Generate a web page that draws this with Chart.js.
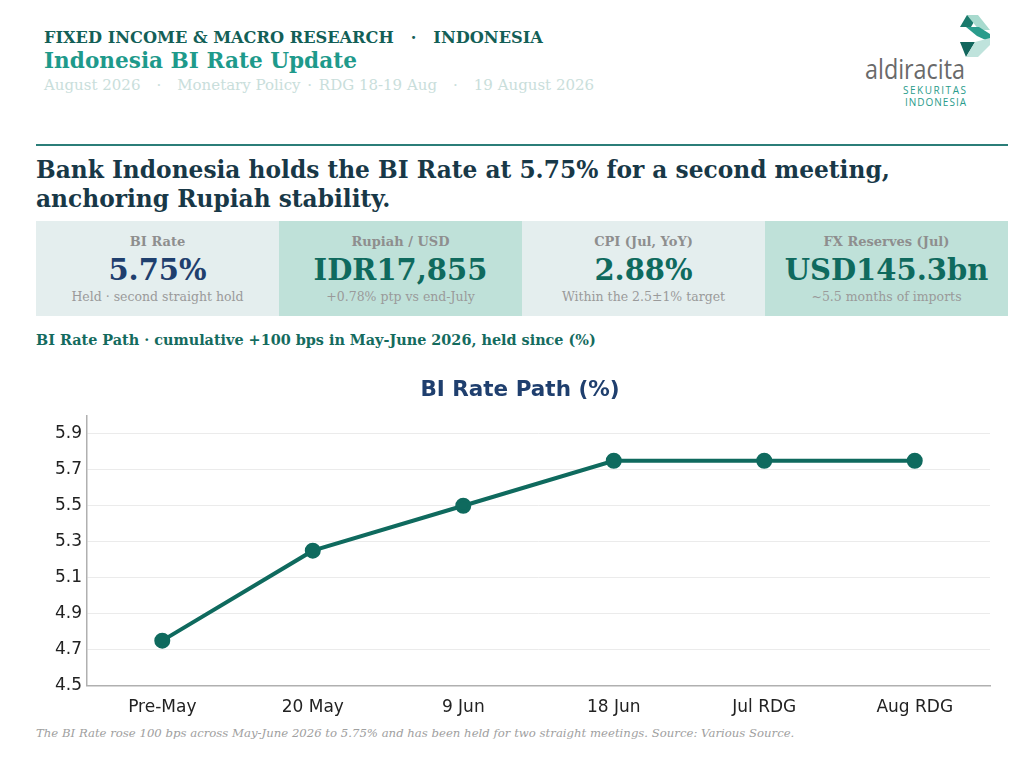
<!DOCTYPE html>
<html lang="en">
<head>
<meta charset="UTF-8">
<title>Indonesia BI Rate Update</title>
<script src="https://cdn.jsdelivr.net/npm/chart.js@4"></script>
<style>
    body { margin: 0; background: #fff; font-family: "DejaVu Serif", serif; }
    #page { position: relative; width: 1024px; height: 762px; overflow: hidden; }
    .abs { position: absolute; white-space: nowrap; }
    .sep { margin: 0 17px; }
    #kicker { left: 44px; top: 28px; font-size: 16.2px; font-weight: bold; color: #135f57; }
    #title { left: 44px; top: 48px; font-size: 21.6px; font-weight: bold; color: #1e9a8b; }
    #sub { left: 44px; top: 76px; font-size: 15px; color: #c9dedb; }
    #sub .sep { margin: 0 16px; }
    #sub .in { margin: 0 2px; }
    #rule { left: 36px; top: 144px; width: 972px; height: 2px; background: #2b7e79; }
    #headline { left: 36px; top: 155px; font-size: 23.3px; font-weight: bold; color: #183847; line-height: 29px; white-space: normal; width: 972px; }
    #cards { left: 36px; top: 221px; width: 972px; height: 95px; display: flex; }
    .card { flex: 1; text-align: center; }
    .card.a { background: #e4eeee; }
    .card.b { background: #bfe1d9; }
    .card .lbl { margin-top: 13px; font-size: 13px; font-weight: bold; color: #8e8e8e; }
    .card .val { margin-top: 2px; font-size: 29px; font-weight: bold; color: #0f6a5e; line-height: 38px; }
    .card .val.navy { color: #1f3f6e; }
    .card .note { margin-top: 0px; font-size: 12.5px; color: #9a9a9a; }
    #section { left: 36px; top: 331px; font-size: 14.4px; font-weight: bold; color: #146b5e; }
    #chartBox { left: 36px; top: 365px; width: 972px; height: 357px; }
    #foot { left: 36px; top: 726px; font-size: 11.7px; font-style: italic; color: #a0a0a0; }
    #logo { left: 858px; top: 12px; }
</style>
</head>
<body>
<div id="page">
    <div class="abs" id="kicker">FIXED INCOME &amp; MACRO RESEARCH<span class="sep">·</span>INDONESIA</div>
    <div class="abs" id="title">Indonesia BI Rate Update</div>
    <div class="abs" id="sub">August 2026<span class="sep">·</span>Monetary Policy <span class="in">·</span> RDG 18-19 Aug<span class="sep">·</span>19 August 2026</div>

    <!--Logo mark drawn with plain SVG shapes (svg origin = page 858,12)-->
    <svg class="abs" id="logo" width="140" height="100" viewBox="0 0 140 100">
        <polygon points="102,15 109,3 120,3 113,15" fill="#1a7a6c"/>
        <polygon points="109,3 120,3 132,18 121,18" fill="#a8dace"/>
        <polygon points="108,15 121,15 132,22 132,30 119,24" fill="#2a9c8c"/>
        <polygon points="102,30 117,30 108,45" fill="#12665d"/>
        <polygon points="117,30 132,26 132,33 120,45 108,45" fill="#bfe3dc"/>
        <text x="7" y="67" font-family="'Open Sans', sans-serif" font-size="27" textLength="100" lengthAdjust="spacingAndGlyphs" fill="#6a6a6a">aldiracita</text>
        <text x="45" y="82" font-family="'Open Sans', sans-serif" font-size="10" textLength="63" lengthAdjust="spacing" fill="#2a9c8c">SEKURITAS</text>
        <text x="47" y="94" font-family="'Open Sans', sans-serif" font-size="10" textLength="61" lengthAdjust="spacing" fill="#2a9c8c">INDONESIA</text>
    </svg>

    <div class="abs" id="rule"></div>
    <div class="abs" id="headline">Bank Indonesia holds the BI Rate at 5.75% for a second meeting,<br>anchoring Rupiah stability.</div>

    <div class="abs" id="cards">
        <div class="card a"><div class="lbl">BI Rate</div><div class="val navy">5.75%</div><div class="note">Held · second straight hold</div></div>
        <div class="card b"><div class="lbl">Rupiah / USD</div><div class="val">IDR17,855</div><div class="note">+0.78% ptp vs end-July</div></div>
        <div class="card a"><div class="lbl">CPI (Jul, YoY)</div><div class="val">2.88%</div><div class="note">Within the 2.5±1% target</div></div>
        <div class="card b"><div class="lbl">FX Reserves (Jul)</div><div class="val">USD145.3bn</div><div class="note">~5.5 months of imports</div></div>
    </div>

    <div class="abs" id="section">BI Rate Path · cumulative +100 bps in May-June 2026, held since (%)</div>

    <div class="abs" id="chartBox"><canvas id="rateChart"></canvas></div>

    <div class="abs" id="foot">The BI Rate rose 100 bps across May-June 2026 to 5.75% and has been held for two straight meetings. Source: Various Source.</div>
</div>

<script>
// Chart data
const meetings = ["Pre-May", "20 May", "9 Jun", "18 Jun", "Jul RDG", "Aug RDG"]
const biRate = [4.75, 5.25, 5.50, 5.75, 5.75, 5.75]
const yTicks = [4.5, 4.7, 4.9, 5.1, 5.3, 5.5, 5.7, 5.9]

Chart.defaults.font.family = "'DejaVu Sans', sans-serif"
Chart.defaults.color = "#222"

const ctx = document.getElementById("rateChart")

new Chart(ctx, {
    type: "line",
    data: {
        labels: meetings,
        datasets: [{
            label: "BI Rate",
            data: biRate,
            borderColor: "#0f6a5e",
            backgroundColor: "#0f6a5e",
            borderWidth: 4,
            pointRadius: 6,
            pointHoverRadius: 6,
            tension: 0
        }]
    },
    options: {
        responsive: true,
        maintainAspectRatio: false,
        animation: false,
        layout: { padding: { left: 14, right: 18, top: 8, bottom: 0 } },
        plugins: {
            legend: { display: false },
            tooltip: { enabled: false },
            title: {
                display: true,
                text: "BI Rate Path (%)",
                color: "#1f3f6e",
                font: { size: 21.5, weight: "bold" },
                padding: { top: 5, bottom: 12 }
            }
        },
        scales: {
            x: {
                offset: true,
                grid: { display: false },
                border: { display: true, color: "#b0b0b0", width: 1.5 },
                ticks: { font: { size: 17 }, color: "#222", padding: 4 }
            },
            y: {
                min: 4.5,
                max: 6.0,
                afterBuildTicks: axis => { axis.ticks = yTicks.map(v => ({ value: v })) },
                grid: { color: "#ebebeb", lineWidth: 1, drawTicks: false },
                border: { display: true, color: "#b0b0b0", width: 1.5 },
                ticks: {
                    font: { size: 17 },
                    color: "#222",
                    padding: 5,
                    callback: v => v.toFixed(1)
                }
            }
        }
    }
})
</script>
</body>
</html>
